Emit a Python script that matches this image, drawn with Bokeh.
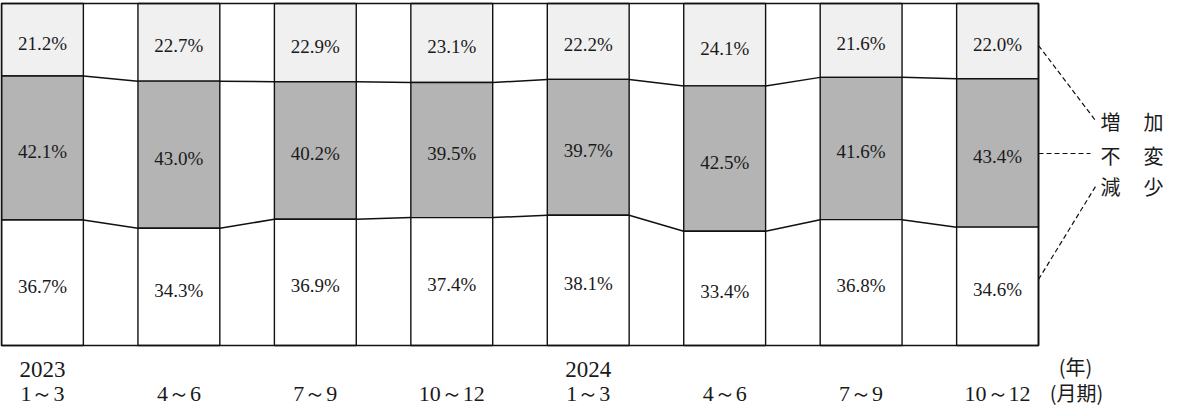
from bokeh.plotting import figure
from bokeh.models import Range1d
from bokeh.core.properties import value
from bokeh.embed import file_html
from bokeh.resources import INLINE
import numpy as np

# ---- data ----
years = ["2023", "", "", "", "2024", "", "", ""]
periods = ["1～3", "4～6", "7～9", "10～12", "1～3", "4～6", "7～9", "10～12"]
increase = [21.2, 22.7, 22.9, 23.1, 22.2, 24.1, 21.6, 22.0]
unchanged = [42.1, 43.0, 40.2, 39.5, 39.7, 42.5, 41.6, 43.4]
decrease = [36.7, 34.3, 36.9, 37.4, 38.1, 33.4, 36.8, 34.6]
legend_left = ["増", "不", "減"]
legend_right = ["加", "変", "少"]
unit_labels = ["(年)", "(月期)"]

# ---- layout (page pixels) ----
W, H = 1163, 408
FL, FR, FT, FB = 9, 1046, 11, 353
HW = 0.3
n = len(increase)
ppx = (FR - FL) / (n - 1 + 2 * HW)
ppy = (FB - FT) / 100.0


def px2x(px):
    return -HW + (px - FL) / ppx


def py2y(py):
    return (FB - py) / ppy


p = figure(width=W, height=H,
           x_range=Range1d(px2x(8), px2x(8 + W)),
           y_range=Range1d(py2y(8 + H), py2y(8)),
           output_backend="svg", toolbar_location=None,
           x_axis_location=None, y_axis_location=None,
           min_border=0, outline_line_color=None)
p.grid.visible = False

x = np.arange(n)
inc = np.array(increase)
unc = np.array(unchanged)
dec = np.array(decrease)

LW = 1.4
# bars
p.quad(left=x - HW, right=x + HW, bottom=100 - inc, top=100,
       fill_color="#f0f0f0", line_color="#111111", line_width=LW)
p.quad(left=x - HW, right=x + HW, bottom=dec, top=100 - inc,
       fill_color="#b4b4b4", line_color="#111111", line_width=LW)
p.quad(left=x - HW, right=x + HW, bottom=0, top=dec,
       fill_color="white", line_color="#111111", line_width=LW)

# outer frame
p.quad(left=[-HW], right=[n - 1 + HW], bottom=[0], top=[100],
       fill_color=None, line_color="#111111", line_width=1.7)

# connecting lines
for b in (100 - inc, dec):
    p.segment(x0=x[:-1] + HW, y0=b[:-1], x1=x[1:] - HW, y1=b[1:],
              line_color="#111111", line_width=1.5)

# value labels
font = value("Liberation Serif")
for vals, centers in ((inc, 100 - inc / 2), (unc, dec + unc / 2), (dec, dec / 2)):
    p.text(x=x, y=centers - 1.0, text=[f"{v:.1f}%" for v in vals],
           text_align="center", text_baseline="middle",
           text_font=font, text_font_size="19px", text_color="#1a1a1a")

# legend dashed leaders
lx = n - 1 + HW
p.segment(x0=[lx, lx, lx],
          y0=[py2y(53), py2y(161), py2y(287)],
          x1=[px2x(1103), px2x(1098), px2x(1103)],
          y1=[py2y(128), py2y(161), py2y(194)],
          line_color="#111111", line_width=1.2, line_dash="5 3")

cjk = value("Noto Sans CJK JP")
ly = [py2y(129), py2y(163), py2y(194)]
p.text(x=[px2x(1118)] * 3, y=ly, text=legend_left, text_align="center",
       text_baseline="middle", text_font=cjk, text_font_size="20px", text_color="#1a1a1a")
p.text(x=[px2x(1161)] * 3, y=ly, text=legend_right, text_align="center",
       text_baseline="middle", text_font=cjk, text_font_size="20px", text_color="#1a1a1a")

# bottom labels
yr_idx = [i for i, s in enumerate(years) if s]
p.text(x=[x[i] for i in yr_idx], y=[py2y(377)] * len(yr_idx), text=[years[i] for i in yr_idx],
       text_align="center", text_baseline="middle",
       text_font=font, text_font_size="23px", text_color="#1a1a1a")
p.text(x=x, y=[py2y(401)] * n, text=periods, text_align="center", text_baseline="middle",
       text_font=font, text_font_size="22px", text_color="#1a1a1a")
p.text(x=[px2x(1083), px2x(1084)], y=[py2y(374), py2y(400)], text=unit_labels,
       text_align="center", text_baseline="middle", text_font=cjk,
       text_font_size="20px", text_color="#1a1a1a")

open("out.html", "w").write(file_html(p, INLINE))
